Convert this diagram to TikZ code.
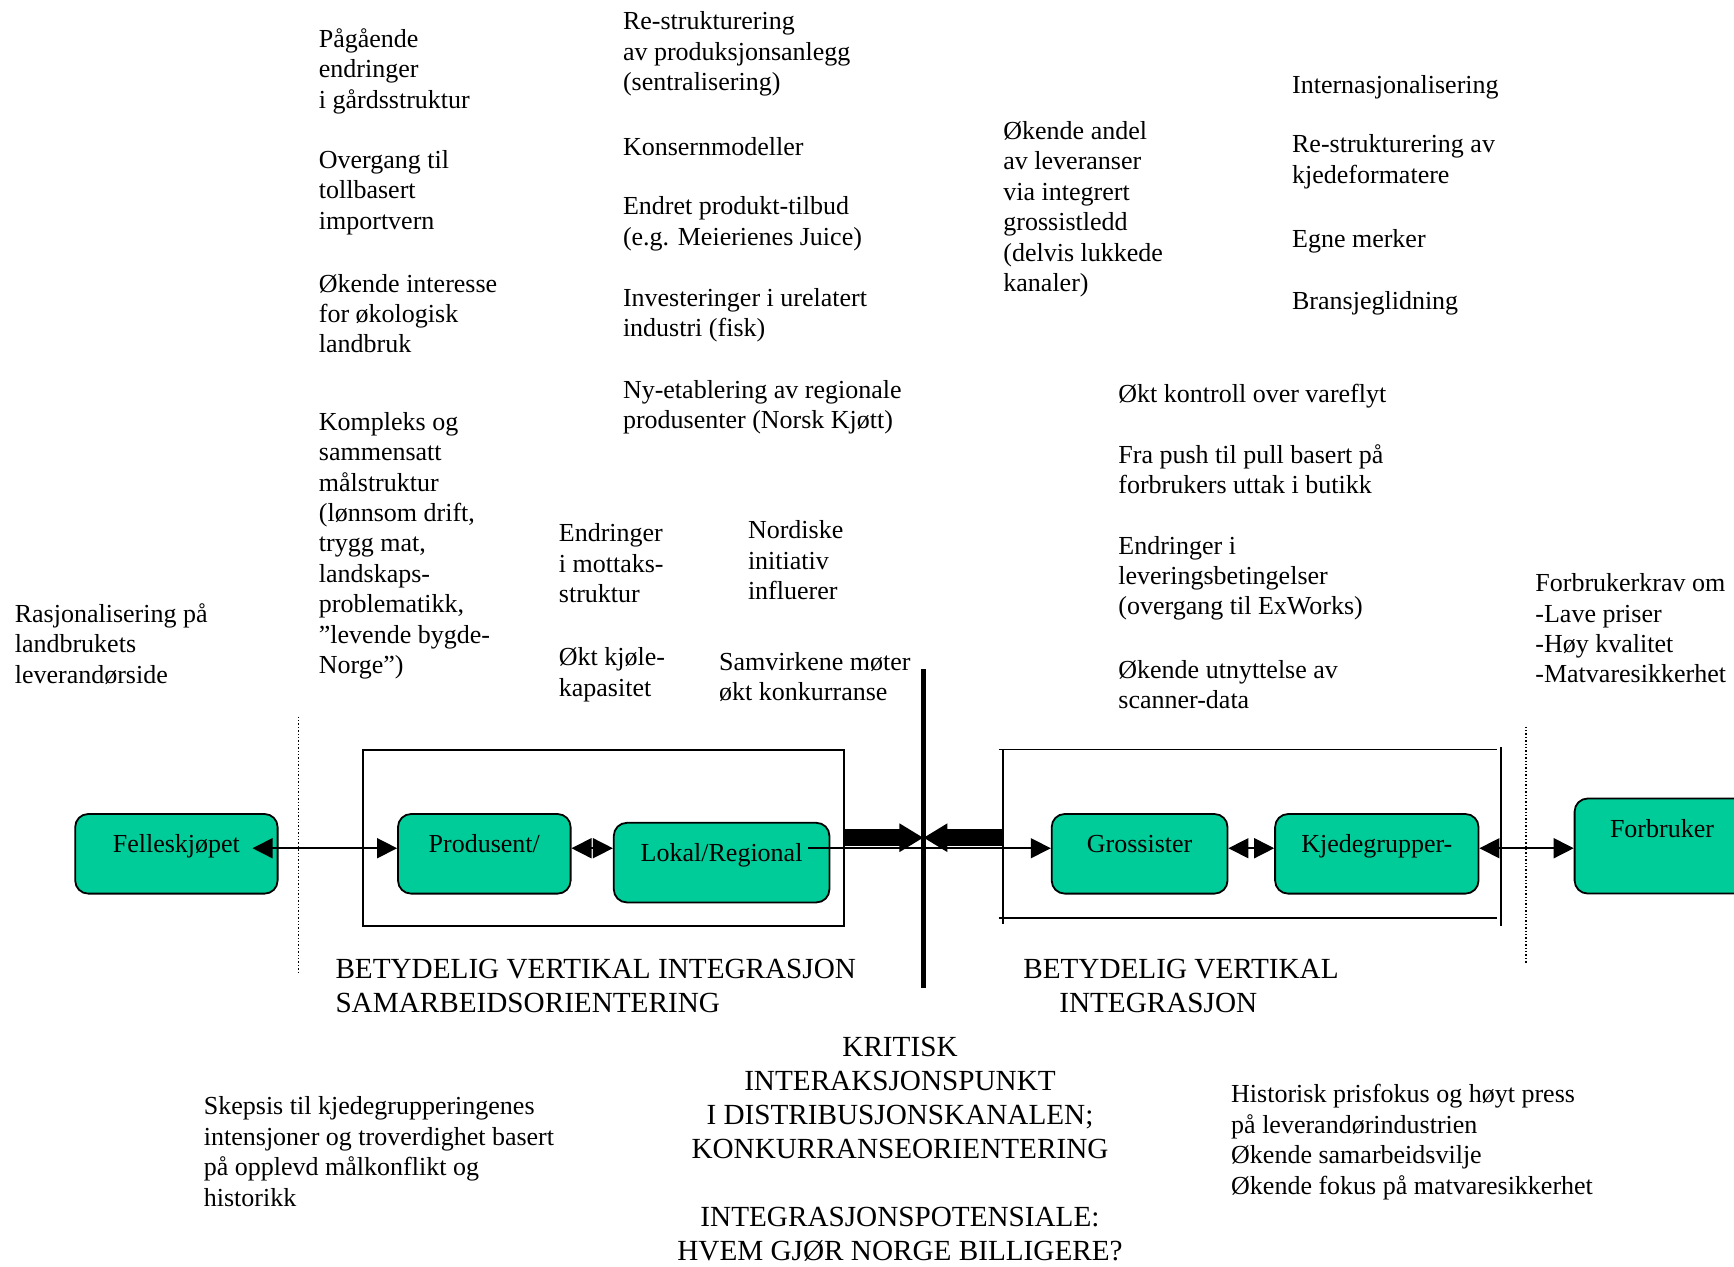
\documentclass[tikz,border=0pt]{standalone}
\usepackage{fontspec}
\setmainfont{Liberation Serif}
\usetikzlibrary{arrows.meta, positioning}
\definecolor{boxgreen}{RGB}{0,204,153}
\tikzset{
  actor/.style={rectangle, draw, line width=0.9pt, rounded corners=6.5pt,
                fill=boxgreen, minimum height=39.8pt, inner sep=0pt,
                text height=9pt, text depth=10pt,
                font=\fontsize{13}{15.2}\selectfont},
  note/.style={anchor=north west, inner sep=0pt, align=left, yshift=5.3pt,
               font=\fontsize{13}{15.2}\selectfont,
               execute at begin node=\strut},
  caps/.style={note, yshift=-0.3pt, font=\fontsize{14.6}{17}\selectfont},
  link/.style={{Triangle[length=10pt,width=10pt]}-{Triangle[length=10pt,width=10pt]},
               line width=0.75pt},
  fwd/.style={-{Triangle[length=10pt,width=10pt]}, line width=0.75pt},
  fat/.style={-{Triangle[length=12pt,width=13.5pt]}, line width=8.3pt},
  frame/.style={rectangle, draw, line width=0.9pt, inner sep=0pt},
  sep/.style={densely dotted, line width=0.7pt},
}
\begin{document}
\begin{tikzpicture}[x=0.5pt, y=-0.5pt]
  \clip (0,0) rectangle (1734,1266);

  % upstream notes
  \node[note] (gard) at (318.5,38.7) {Pågående\\endringer\\i gårdsstruktur};
  \node[note] (toll) at (318.5,160.4) {Overgang til\\tollbasert\\importvern};
  \node[note] (oko) at (318.5,284.2) {Økende interesse\\for økologisk\\landbruk};
  \node[note] (maal) at (318.5,422.4) {Kompleks og\\sammensatt\\målstruktur\\(lønnsom drift,\\trygg mat,\\landskaps-\\problematikk,\\”levende bygde-\\Norge”)};
  \node[note] (rasj) at (14.4,613.8) {Rasjonalisering på\\landbrukets\\leverandørside};
  \node[note] (restr) at (622.6,22.1) {Re-strukturering\\av produksjonsanlegg\\(sentralisering)};
  \node[note] (konsern) at (622.6,144.9) {Konsernmodeller};
  \node[note] (tilbud) at (622.6,206.8) {Endret produkt-tilbud\\(e.g. Meierienes Juice)};
  \node[note] (invest) at (622.6,298.6) {Investeringer i urelatert\\industri (fisk)};
  \node[note] (nyetab) at (622.6,390.4) {Ny-etablering av regionale\\produsenter (Norsk Kjøtt)};
  \node[note] (mottak) at (558.5,534.1) {Endringer\\i mottaks-\\struktur};
  \node[note] (kjole) at (558.5,658) {Økt kjøle-\\kapasitet};
  \node[note] (nordisk) at (747.6,530.8) {Nordiske\\initiativ\\influerer};
  \node[note] (samv) at (718.8,662.4) {Samvirkene møter\\økt konkurranse};

  % downstream notes
  \node[note] (andel) at (1003,131.6) {Økende andel\\av leveranser\\via integrert\\grossistledd\\(delvis lukkede\\kanaler)};
  \node[note] (intl) at (1291.7,82.9) {Internasjonalisering};
  \node[note] (format) at (1291.7,144.9) {Re-strukturering av\\kjedeformatere};
  \node[note] (merker) at (1291.7,236.7) {Egne merker};
  \node[note] (glid) at (1291.7,298.6) {Bransjeglidning};
  \node[note] (flyt) at (1118,391.5) {Økt kontroll over vareflyt};
  \node[note] (pull) at (1118,454.5) {Fra push til pull basert på\\forbrukers uttak i butikk};
  \node[note] (lever) at (1118,546.3) {Endringer i\\leveringsbetingelser\\(overgang til ExWorks)};
  \node[note] (scan) at (1118,670.2) {Økende utnyttelse av\\scanner-data};
  \node[note] (krav) at (1535,583.9) {Forbrukerkrav om\\-Lave priser\\-Høy kvalitet\\-Matvaresikkerhet};

  % frames and separators
  \node[frame, minimum width=240.55pt, minimum height=87.9pt] (lgrp) at (603.25,837.7) {};
  \node[inner sep=0pt, minimum width=248.85pt, minimum height=84.05pt] (rgrp) at (1251.85,833.85) {};
  \draw[line width=0.9pt] ([xshift=-2pt]rgrp.north west) -- ([xshift=-2pt]rgrp.north east);
  \draw[line width=0.9pt] ([xshift=-2pt]rgrp.south west) -- ([xshift=-2pt]rgrp.south east);
  \draw[line width=0.9pt] (rgrp.north west) -- ([yshift=-3pt]rgrp.south west);
  \draw[line width=0.9pt] ([yshift=1pt]rgrp.north east) -- ([yshift=-4pt]rgrp.south east);
  \coordinate (ltop) at (298.6,716.6);
  \coordinate (lbot) at (298.6,973.2);
  \coordinate (rtop) at (1526.1,726.6);
  \coordinate (rbot) at (1526.1,964.3);
  \draw[sep] (ltop) -- (lbot);
  \draw[sep] (rtop) -- (rbot);

  % chain actors
  \node[actor, minimum width=101.2pt] (fell) at (176.4,853.8) {Felleskjøpet};
  \node[actor, minimum width=86.3pt] (prod) at (484.3,853.8) {Produsent/};
  \node[actor, minimum width=107.8pt] (lokal) at (721.6,862.6) {Lokal/Regional};
  \node[actor, minimum width=87.9pt] (gross) at (1139.6,853.8) {Grossister};
  \node[actor, minimum width=101.7pt] (kjede) at (1376.8,853.8) {Kjedegrupper-};
  \node[actor, minimum width=87.4pt, minimum height=47.5pt, text depth=18pt] (forb) at (1662,846) {Forbruker};

  % connectors
  \coordinate (lokout) at ([xshift=-11pt]lokal.east);
  \coordinate (cross) at (923.4,837.7);
  \coordinate (bartop) at (923.4,669);
  \coordinate (barbot) at (923.4,987.5);
  \draw[link, shorten <=-13pt] (fell.mid east) -- (prod.mid west);
  \draw[link] (prod.mid east) -- (prod.mid east -| lokal.west);
  \draw[fwd] (lokout |- gross.mid west) -- (gross.mid west);
  \draw[link] (gross.mid east) -- (kjede.mid west);
  \draw[link] (kjede.mid east) -- (kjede.mid east -| forb.west);
  \draw[fat] (lgrp.east |- cross) -- (cross);
  \draw[fat] (rgrp.west |- cross) -- (cross);
  \draw[line width=2.8pt] (bartop) -- (barbot);

  % headings
  \node[caps] (lint) at (335.1,968.7) {BETYDELIG VERTIKAL INTEGRASJON\\SAMARBEIDSORIENTERING};
  \node[caps] (rint) at (1022.9,968.7) {BETYDELIG VERTIKAL\\\hspace*{18pt}INTEGRASJON};
  \node[caps, anchor=north, align=center] (krit) at (900,1046.7) {KRITISK\\INTERAKSJONSPUNKT\\I DISTRIBUSJONSKANALEN;\\KONKURRANSEORIENTERING\\[17pt]INTEGRASJONSPOTENSIALE:\\HVEM GJØR NORGE BILLIGERE?};
  \node[note] (skep) at (203.5,1107) {Skepsis til kjedegrupperingenes\\intensjoner og troverdighet basert\\på opplevd målkonflikt og\\historikk};
  \node[note] (hist) at (1230.8,1094.8) {Historisk prisfokus og høyt press\\på leverandørindustrien\\Økende samarbeidsvilje\\Økende fokus på matvaresikkerhet};
\end{tikzpicture}
\end{document}
